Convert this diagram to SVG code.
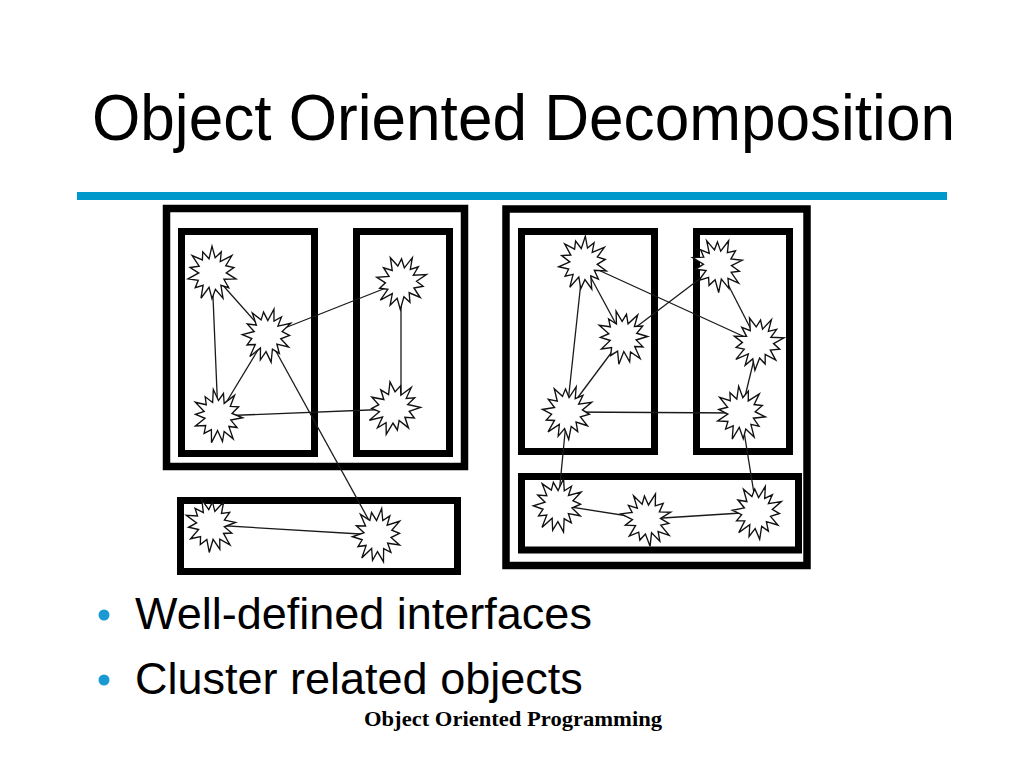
<svg xmlns="http://www.w3.org/2000/svg" xmlns:xlink="http://www.w3.org/1999/xlink" width="1024" height="768" viewBox="0 0 1024 768">
<defs>
<style>
.box{fill:none;stroke:#000;stroke-width:7.5}
.ibox{fill:none;stroke:#000;stroke-width:7}
.edge{stroke:#1a1a1a;stroke-width:1.3;fill:none}
.star{fill:#fff;stroke:#111;stroke-width:1.3;stroke-linejoin:miter}
.title{font-family:"Liberation Sans",Arial,sans-serif;font-size:64px;fill:#000}
.bullet{font-family:"Liberation Sans",Arial,sans-serif;font-size:45px;fill:#000}
.footer{font-family:"Liberation Serif","Times New Roman",serif;font-size:20px;font-weight:bold;fill:#000}
</style>
<polygon id="star" points="0,-24 3.1,-13.6 9.1,-18.9 8.1,-10.2 19.5,-15.6 13.5,-6.5 21.4,-4.9 14,0 23.4,5.3 11.7,5.6 16.4,13.1 8.7,10.9 10.8,22.5 3.3,14.6 0,23 -2.9,12.7 -10.8,22.5 -8.7,10.9 -16.4,13.1 -13.5,6.5 -23.4,5.3 -13,0 -21.4,-4.9 -12.6,-6.1 -19.5,-15.6 -9.4,-11.7 -9.1,-18.9 -2.9,-12.7"/>
</defs>
<rect width="1024" height="768" fill="#fff"/>
<text class="title" x="92" y="140" textLength="863" lengthAdjust="spacingAndGlyphs">Object Oriented Decomposition</text>
<rect x="77" y="192" width="870" height="8" fill="#0099CC"/>

<g id="left-containers">
<rect class="box" x="166.5" y="208.5" width="298" height="258"/>
<rect class="ibox" x="181.5" y="231.5" width="133" height="222"/>
<rect class="ibox" x="356.5" y="231.5" width="93" height="222"/>
<rect class="ibox" x="180.5" y="500.5" width="277" height="71"/>
</g>
<g id="right-containers">
<rect class="box" x="506" y="209" width="301" height="356.5"/>
<rect class="ibox" x="521.5" y="231.5" width="133" height="220"/>
<rect class="ibox" x="696.5" y="231.5" width="93" height="220"/>
<rect class="ibox" x="521.5" y="476.5" width="277" height="73.5"/>
</g>

<g id="connectors">
<line class="edge" x1="212" y1="273" x2="218" y2="416"/>
<line class="edge" x1="212" y1="273" x2="267" y2="335"/>
<line class="edge" x1="267" y1="335" x2="401" y2="282"/>
<line class="edge" x1="267" y1="335" x2="218" y2="416"/>
<line class="edge" x1="218" y1="416" x2="394" y2="409"/>
<line class="edge" x1="401" y1="282" x2="401" y2="405"/>
<line class="edge" x1="267" y1="335" x2="377" y2="535"/>
<line class="edge" x1="211" y1="525" x2="377" y2="535"/>

<line class="edge" x1="583" y1="263" x2="567" y2="412"/>
<line class="edge" x1="583" y1="263" x2="623" y2="337"/>
<line class="edge" x1="583" y1="263" x2="758" y2="343"/>
<line class="edge" x1="623" y1="337" x2="718" y2="265"/>
<line class="edge" x1="623" y1="337" x2="567" y2="412"/>
<line class="edge" x1="718" y1="265" x2="758" y2="343"/>
<line class="edge" x1="567" y1="412" x2="741" y2="413"/>
<line class="edge" x1="758" y1="343" x2="741" y2="413"/>
<line class="edge" x1="567" y1="412" x2="558" y2="505"/>
<line class="edge" x1="741" y1="413" x2="757" y2="512"/>
<line class="edge" x1="558" y1="505" x2="647" y2="519"/>
<line class="edge" x1="647" y1="519" x2="757" y2="512"/>
</g>

<g id="obj-l1"><use xlink:href="#star" class="star" transform="translate(212,273) scale(1.02,1.12)"/></g>
<g id="obj-l2"><use xlink:href="#star" class="star" transform="translate(267,335) rotate(15) scale(1.02,1.12)"/></g>
<g id="obj-l3"><use xlink:href="#star" class="star" transform="translate(218,416) rotate(-10) scale(1.02,1.12)"/></g>
<g id="obj-l4"><use xlink:href="#star" class="star" transform="translate(401,282) rotate(25) scale(1.02,1.12)"/></g>
<g id="obj-l5"><use xlink:href="#star" class="star" transform="translate(394,408) rotate(40) scale(1.02,1.12)"/></g>
<g id="obj-l6"><use xlink:href="#star" class="star" transform="translate(211,525) rotate(-20) scale(1.02,1.12)"/></g>
<g id="obj-l7"><use xlink:href="#star" class="star" transform="translate(377,535) rotate(10) scale(1.02,1.12)"/></g>

<g id="obj-r1"><use xlink:href="#star" class="star" transform="translate(583,263) rotate(5) scale(1.02,1.12)"/></g>
<g id="obj-r2"><use xlink:href="#star" class="star" transform="translate(623,337) rotate(-15) scale(1.02,1.12)"/></g>
<g id="obj-r3"><use xlink:href="#star" class="star" transform="translate(567,412) rotate(20) scale(1.02,1.12)"/></g>
<g id="obj-r4"><use xlink:href="#star" class="star" transform="translate(718,265) rotate(-25) scale(1.02,1.12)"/></g>
<g id="obj-r5"><use xlink:href="#star" class="star" transform="translate(758,343) rotate(30) scale(1.02,1.12)"/></g>
<g id="obj-r6"><use xlink:href="#star" class="star" transform="translate(741,413) rotate(-5) scale(1.02,1.12)"/></g>
<g id="obj-r7"><use xlink:href="#star" class="star" transform="translate(558,505) rotate(12) scale(1.02,1.12)"/></g>
<g id="obj-r8"><use xlink:href="#star" class="star" transform="translate(647,519) rotate(-30) scale(1.02,1.12)"/></g>
<g id="obj-r9"><use xlink:href="#star" class="star" transform="translate(757,512) rotate(18) scale(1.02,1.12)"/></g>

<g id="bullets">
<circle cx="104" cy="615" r="5.5" fill="#1A9AD2"/>
<text class="bullet" x="135" y="629">Well-defined interfaces</text>
<circle cx="104" cy="680" r="5.5" fill="#1A9AD2"/>
<text class="bullet" x="135" y="694">Cluster related objects</text>
</g>
<text class="footer" x="364" y="726" textLength="298" lengthAdjust="spacingAndGlyphs">Object Oriented Programming</text>
</svg>
